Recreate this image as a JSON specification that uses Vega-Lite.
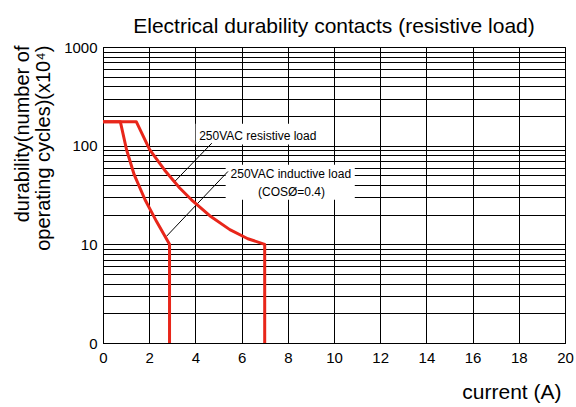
{
  "$schema": "https://vega.github.io/schema/vega-lite/v6.json",
  "width": 462,
  "height": 296,
  "autosize": "none",
  "padding": {"left": 103, "top": 47, "right": 11, "bottom": 64},
  "background": "white",
  "config": {
    "font": "Liberation Sans",
    "view": {"stroke": "black", "strokeWidth": 1}
  },
  "title": {
    "text": "Electrical durability contacts (resistive load)",
    "fontSize": 21,
    "fontWeight": "normal",
    "color": "black",
    "offset": 3,
    "anchor": "middle"
  },
  "datasets": {
    "curves": [
      {"series": "resistive", "order": 0, "x": 0, "y": 175},
      {"series": "resistive", "order": 1, "x": 1.44, "y": 175},
      {"series": "resistive", "order": 2, "x": 2.02, "y": 91},
      {"series": "resistive", "order": 3, "x": 2.67, "y": 56.4},
      {"series": "resistive", "order": 4, "x": 3.32, "y": 37.2},
      {"series": "resistive", "order": 5, "x": 3.83, "y": 28.3},
      {"series": "resistive", "order": 6, "x": 4.62, "y": 19.5},
      {"series": "resistive", "order": 7, "x": 5.49, "y": 14.1},
      {"series": "resistive", "order": 8, "x": 6.27, "y": 11.4},
      {"series": "resistive", "order": 9, "x": 7.0, "y": 10},
      {"series": "resistive", "order": 10, "x": 7.0, "y": 1},
      {"series": "inductive", "order": 0, "x": 0, "y": 175},
      {"series": "inductive", "order": 1, "x": 0.75, "y": 175},
      {"series": "inductive", "order": 2, "x": 1.02, "y": 91},
      {"series": "inductive", "order": 3, "x": 1.35, "y": 50.8},
      {"series": "inductive", "order": 4, "x": 1.82, "y": 28.3},
      {"series": "inductive", "order": 5, "x": 2.32, "y": 17.0},
      {"series": "inductive", "order": 6, "x": 2.88, "y": 10},
      {"series": "inductive", "order": 7, "x": 2.88, "y": 1}
    ],
    "boxes": [
      {"x": 4.01, "x2": 9.38, "y": 102.5, "y2": 167},
      {"x": 5.31, "x2": 10.9, "y": 28.3, "y2": 64.1}
    ],
    "leaders": [
      {"x": 3.11, "y": 43.4, "x2": 4.71, "y2": 106},
      {"x": 2.74, "y": 12.0, "x2": 5.41, "y2": 54.8}
    ],
    "labels": [
      {"x": 6.70, "y": 124, "text": "250VAC resistive load"},
      {"x": 8.13, "y": 51.6, "text": "250VAC inductive load"},
      {"x": 8.16, "y": 33.6, "text": "(COSØ=0.4)"}
    ]
  },
  "encoding": {
    "x": {
      "field": "x",
      "type": "quantitative",
      "scale": {"domain": [0, 20], "nice": false, "zero": false},
      "axis": {
        "values": [0, 2, 4, 6, 8, 10, 12, 14, 16, 18, 20],
        "ticks": false,
        "domainColor": "black",
        "gridColor": "black",
        "gridOpacity": 1,
        "gridWidth": 1,
        "labelFontSize": 15,
        "labelColor": "black",
        "labelPadding": 7,
        "labelFlush": false,
        "title": "current (A)",
        "titleFontSize": 21,
        "titleFontWeight": "normal",
        "titleColor": "black",
        "titleAlign": "right",
        "titleBaseline": "middle",
        "titleX": 458,
        "titleY": 49
      }
    },
    "y": {
      "field": "y",
      "type": "quantitative",
      "scale": {"type": "log", "domain": [1, 1000], "nice": false},
      "axis": {
        "values": [1, 2, 3, 4, 5, 6, 7, 8, 9, 10, 20, 30, 40, 50, 60, 70, 80, 90, 100, 200, 300, 400, 500, 600, 700, 800, 900, 1000],
        "format": "d",
        "labelExpr": "datum.value == 1 ? '0' : (datum.value == 10 || datum.value == 100 || datum.value == 1000 ? datum.label : '')",
        "labelOverlap": false,
        "labelFlush": false,
        "ticks": false,
        "domainColor": "black",
        "gridColor": "black",
        "gridOpacity": 1,
        "gridWidth": 1,
        "labelFontSize": 15,
        "labelColor": "black",
        "labelPadding": 6,
        "title": ["durability(number of", "operating cycles)(x10⁴)"],
        "titleFontSize": 20,
        "titleFontWeight": "normal",
        "titleColor": "black",
        "titleAngle": 270,
        "titleAlign": "right",
        "titleBaseline": "middle",
        "titleLineHeight": 21,
        "titleX": -81,
        "titleY": -2
      }
    }
  },
  "layer": [
    {
      "data": {"name": "boxes"},
      "mark": {"type": "rect", "fill": "white", "stroke": null},
      "encoding": {
        "x2": {"field": "x2"},
        "y2": {"field": "y2"}
      }
    },
    {
      "data": {"name": "leaders"},
      "mark": {"type": "rule", "color": "black", "strokeWidth": 1},
      "encoding": {
        "x2": {"field": "x2"},
        "y2": {"field": "y2"}
      }
    },
    {
      "data": {"name": "curves"},
      "mark": {"type": "line", "color": "#e8261a", "strokeWidth": 3, "strokeJoin": "round"},
      "encoding": {
        "detail": {"field": "series", "type": "nominal"},
        "order": {"field": "order", "type": "quantitative"}
      }
    },
    {
      "data": {"name": "labels"},
      "mark": {"type": "text", "fontSize": 12, "color": "black", "align": "center", "baseline": "middle"},
      "encoding": {
        "text": {"field": "text", "type": "nominal"}
      }
    }
  ]
}
